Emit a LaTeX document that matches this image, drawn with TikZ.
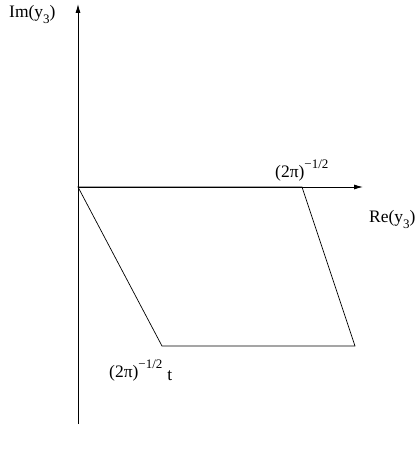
\documentclass[tikz,border=0pt]{standalone}
\usepackage{fontspec}
\setmainfont{Liberation Serif}
\usepackage{tikz}
\usetikzlibrary{arrows.meta,positioning,calc}
\newcommand{\lowidx}[1]{\raisebox{-6pt}{\fontsize{13}{14}\selectfont #1}}
\newcommand{\highidx}[1]{\raisebox{9pt}{\fontsize{13}{14}\selectfont #1}}
\tikzset{
  axis/.style={-{Latex[length=9pt,width=5pt]},line width=0.8pt,draw=black},
  edge/.style={line width=0.7pt,draw=black},
  lbl/.style={font=\fontsize{17.5}{19}\selectfont,inner sep=0pt},
}

\begin{document}
\begin{tikzpicture}[x=1pt,y=-1pt]
  \useasboundingbox (0,0) rectangle (419,452);
  % axes
  \coordinate (O) at (78,187);
  \coordinate (ybot) at (78,424);
  \coordinate (ytop) at (78,4);
  \coordinate (xend) at (363,187);
  \draw[axis] (ybot) -- (ytop);
  \draw[axis] (O) -- (xend);
  % parallelogram
  \coordinate (A) at (302,187);
  \coordinate (B) at (355,346);
  \coordinate (C) at (162,346);
  \draw[edge] (O) -- (A) -- (B) -- (C) -- cycle;
  % labels
  \node[lbl,anchor=base west] (im) at (9,18) {Im(y\lowidx{3})};
  \node[lbl,anchor=base west] (re) at (369,222) {Re(y\lowidx{3})};
  \node[lbl,anchor=base west] (a) at (275,177) {(2π)\highidx{−1/2}};
  \node[lbl,anchor=base west] (c) at (109,377) {(2π)\highidx{−1/2}\hspace{5pt}\raisebox{-3pt}{t}};
\end{tikzpicture}
\end{document}
